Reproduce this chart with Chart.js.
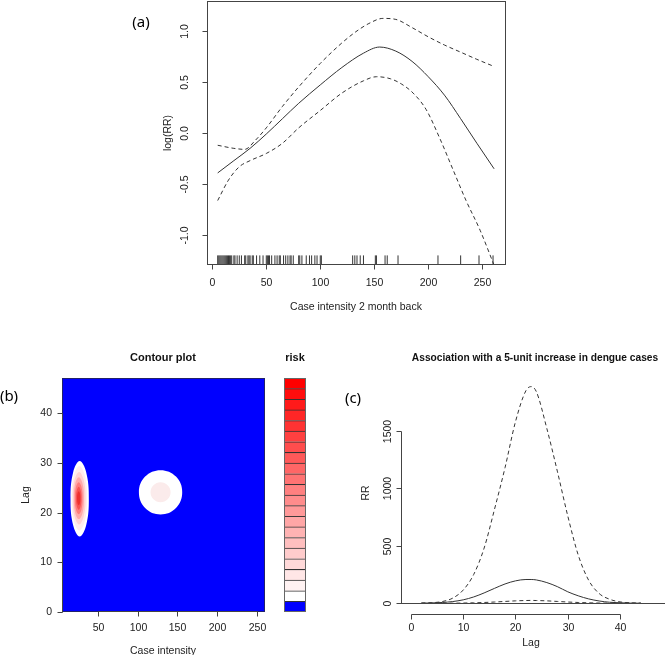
<!DOCTYPE html>
<html>
<head>
<meta charset="utf-8">
<script src="https://cdn.jsdelivr.net/npm/chart.js@4.4.1/dist/chart.umd.min.js"></script>
<style>
body { margin: 0; background: #fff; width: 667px; height: 655px; position: relative; overflow: hidden; font-family: "Liberation Sans", Arial, sans-serif; color: #222; }
canvas { position: absolute; }
.t { position: absolute; transform: translate(-50%, -50%); white-space: nowrap; font-size: 10.5px; }
.b { font-weight: bold; font-size: 11px; color: #111; }
.p { font-family: "Noto Sans", sans-serif; font-size: 15px; color: #000; }
.r { transform: translate(-50%, -50%) rotate(-90deg); }
</style>
</head>
<body>
<canvas id="ga" width="380" height="320" style="left:140px;top:0px"></canvas>
<canvas id="gb" width="275" height="315" style="left:0px;top:340px"></canvas>
<canvas id="gr" width="40" height="315" style="left:278px;top:340px"></canvas>
<canvas id="gc" width="327" height="315" style="left:340px;top:340px"></canvas>

<div class="t p" style="left:141px;top:21px">(a)</div>
<div class="t r" style="left:167px;top:133px">log(RR)</div>
<div class="t" style="left:356px;top:306px">Case intensity 2 month back</div>

<div class="t p" style="left:9px;top:395px">(b)</div>
<div class="t b" style="left:163px;top:357px">Contour plot</div>
<div class="t b" style="left:295px;top:357px">risk</div>
<div class="t r" style="left:25px;top:495px">Lag</div>
<div class="t" style="left:163px;top:650px">Case intensity</div>

<div class="t p" style="left:353px;top:397px">(c)</div>
<div class="t b" style="left:535px;top:357px;font-size:10.2px">Association with a 5-unit increase in dengue cases</div>
<div class="t r" style="left:365px;top:493px">RR</div>
<div class="t" style="left:531px;top:642px">Lag</div>

<script>
// (a) log(RR) vs case intensity, 2 months back
const aFitX = [5, 20, 35, 50, 65, 80, 100, 120, 140, 155, 170, 185, 200, 215, 230, 245, 261];
const aFit = [-0.39, -0.27, -0.15, -0.01, 0.14, 0.29, 0.47, 0.64, 0.78, 0.84, 0.80, 0.70, 0.55, 0.37, 0.14, -0.10, -0.35];
const aUpX = [5, 20, 30, 40, 50, 65, 80, 100, 120, 133, 145, 158, 170, 185, 200, 215, 230, 245, 261];
const aUp = [-0.12, -0.15, -0.16, -0.07, 0.05, 0.26, 0.45, 0.68, 0.88, 0.99, 1.07, 1.12, 1.11, 1.03, 0.94, 0.86, 0.79, 0.72, 0.65];
const aLoX = [5, 15, 25, 35, 50, 65, 80, 100, 120, 140, 152, 165, 175, 186, 198, 211, 223, 235, 248, 262];
const aLo = [-0.66, -0.46, -0.33, -0.27, -0.20, -0.10, 0.05, 0.22, 0.39, 0.51, 0.55, 0.53, 0.48, 0.39, 0.23, -0.06, -0.36, -0.66, -0.95, -1.32];
const rug = [5, 6, 7, 8, 9, 10, 11, 12, 13, 14, 15, 16, 17, 18, 20, 21, 23, 25, 27, 30, 31, 33, 34, 35, 37, 38, 41,
    44, 47, 50, 51, 52, 53, 55, 58, 60, 62, 63, 66, 68, 70, 72, 73, 75, 80, 81, 83, 87, 90, 92, 95, 97, 100, 101,
    130, 132, 134, 137, 140, 151, 152, 160, 162, 172, 209, 230, 247, 260];
const aXTicks = [0, 50, 100, 150, 200, 250];
const aYTicks = [-1, -0.5, 0, 0.5, 1];

// (b) contour plot: risk regions (case intensity, lag)
const blobWhite = [[38.7, 22.8], [35.3, 28.2], [27.2, 30.4], [19.1, 28.2], [15.7, 22.8], [19.1, 17.4], [27.2, 15.2], [35.3, 17.4]];
const blob1 = [[36.6, 22.9], [33.7, 27.5], [26.8, 29.4], [19.9, 27.5], [17.0, 22.9], [19.9, 18.3], [26.8, 16.4], [33.7, 18.3]];
const blob2 = [[34.6, 22.9], [32.2, 26.6], [26.5, 28.2], [20.8, 26.6], [18.5, 22.9], [20.8, 19.2], [26.5, 17.6], [32.2, 19.2]];
const blob3 = [[32.5, 22.9], [30.7, 25.9], [26.2, 27.1], [21.7, 25.9], [19.9, 22.9], [21.7, 19.9], [26.2, 18.7], [30.7, 19.9]];
const blob4 = [[30.8, 22.9], [29.4, 25.2], [26, 26.1], [22.6, 25.2], [21.2, 22.9], [22.6, 20.6], [26, 19.7], [29.4, 20.6]];
const blob5 = [[29.45, 22.9], [28.4, 24.5], [26, 25.2], [23.6, 24.5], [22.55, 22.9], [23.6, 21.3], [26, 20.6], [28.4, 21.3]];
const blob6 = [[28.1, 22.9], [27.5, 23.9], [26, 24.3], [24.5, 23.9], [23.9, 22.9], [24.5, 21.9], [26, 21.5], [27.5, 21.9]];
const circWhite = [[156, 24.1], [148.2, 27.25], [128.8, 28.55], [109.4, 27.25], [101.6, 24.1], [109.4, 20.95], [128.8, 19.65], [148.2, 20.95]];
const circPink = [[141.4, 24.1], [137.7, 25.5], [128.8, 26.1], [119.9, 25.5], [116.2, 24.1], [119.9, 22.7], [128.8, 22.1], [137.7, 22.7]];
const bXTicks = [50, 100, 150, 200, 250];
const bYTicks = [0, 10, 20, 30, 40];
// risk key, bottom to top
const riskColors = ['#0000FF', '#FFFFFF', '#FFF2F2', '#FFE6E6', '#FFD9D9', '#FFCCCC', '#FFBFBF', '#FFB3B3', '#FFA6A6',
    '#FF9999', '#FF8C8C', '#FF8080', '#FF7373', '#FF6666', '#FF5959', '#FF4D4D', '#FF4040', '#FF3333', '#FF2626',
    '#FF1A1A', '#FF0D0D', '#FF0000'];

// (c) RR by lag for a 5-unit increase
const cLag = [2, 4, 6, 8, 10, 12, 14, 16, 18, 20, 22, 23, 24, 26, 28, 30, 32, 34, 36, 38, 40, 42, 44];
const cUp = [2, 5, 15, 45, 115, 250, 480, 820, 1180, 1580, 1850, 1885, 1840, 1520, 1150, 760, 420, 200, 85, 35, 12, 4, 1];
const cFit = [1, 3, 7, 15, 30, 55, 90, 130, 168, 195, 207, 207, 203, 180, 145, 100, 65, 38, 20, 9, 4, 1.5, 0.5];
const cLo = [0, 0, 0.5, 1, 2, 4, 7, 11, 16, 21, 24, 25, 24, 21, 16, 11, 7, 4, 2, 1, 0.5, 0, 0];
const cXTicks = [0, 10, 20, 30, 40];
const cYTicks = [0, 500, 1000, 1500];

const FONT = '10.5px "Liberation Sans", Arial, sans-serif';

// R style axes: box, outward ticks, axis line from first to last tick
const rAxes = {
    id: 'rAxes',
    beforeDatasetsDraw(chart, args, o) {
        if (!o.bg) return;
        const a = chart.chartArea, ctx = chart.ctx;
        ctx.save();
        ctx.fillStyle = o.bg;
        ctx.fillRect(a.left, a.top, a.right - a.left, a.bottom - a.top);
        ctx.restore();
    },
    afterDraw(chart, args, o) {
        const ctx = chart.ctx, a = chart.chartArea;
        const sx = chart.scales.x, sy = chart.scales.y;
        ctx.save();
        ctx.strokeStyle = '#444';
        ctx.fillStyle = '#222';
        ctx.lineWidth = 1;
        ctx.font = FONT;
        if (o.zero) {
            const p = Math.round(sy.getPixelForValue(0)) + 0.5;
            ctx.beginPath();
            ctx.moveTo(a.left, p);
            ctx.lineTo(a.right, p);
            ctx.stroke();
        }
        if (o.box) {
            ctx.strokeStyle = o.boxColor || '#444';
            ctx.strokeRect(a.left + 0.5, a.top + 0.5, a.right - a.left - 1, a.bottom - a.top - 1);
            ctx.strokeStyle = '#444';
        }
        if (o.xLab !== undefined) {
            const yb = a.bottom - 0.5;
            const px = sx.ticks.map(t => Math.round(sx.getPixelForValue(t.value)) + 0.5);
            ctx.beginPath();
            ctx.moveTo(px[0], yb);
            ctx.lineTo(px[px.length - 1], yb);
            px.forEach(p => { ctx.moveTo(p, yb); ctx.lineTo(p, yb + 5); });
            ctx.stroke();
            ctx.textAlign = 'center';
            ctx.textBaseline = 'middle';
            sx.ticks.forEach((t, i) => ctx.fillText(t.label, px[i], a.bottom + o.xLab));
        }
        if (o.yLab !== undefined) {
            const xl = a.left + 0.5;
            const py = sy.ticks.map(t => Math.round(sy.getPixelForValue(t.value)) + 0.5);
            ctx.beginPath();
            ctx.moveTo(xl, py[0]);
            ctx.lineTo(xl, py[py.length - 1]);
            py.forEach(p => { ctx.moveTo(xl, p); ctx.lineTo(xl - 5, p); });
            ctx.stroke();
            sy.ticks.forEach((t, i) => {
                if (o.yRot) {
                    ctx.save();
                    ctx.translate(a.left - o.yLab, py[i]);
                    ctx.rotate(-Math.PI / 2);
                    ctx.textAlign = 'center';
                    ctx.textBaseline = 'middle';
                    ctx.fillText(t.label, 0, 0);
                    ctx.restore();
                } else {
                    ctx.textAlign = 'right';
                    ctx.textBaseline = 'middle';
                    ctx.fillText(t.label, a.left - o.yLab, py[i]);
                }
            });
        }
        ctx.restore();
    }
};

function axis(min, max, ticks, fmt) {
    return {
        type: 'linear', display: false, min: min, max: max,
        afterBuildTicks: s => { s.ticks = ticks.map(v => ({ value: v })); },
        ticks: { callback: fmt || (v => String(v)) }
    };
}

function curve(xs, ys, dash) {
    return {
        data: xs.map((x, i) => ({ x: x, y: ys[i] })),
        borderColor: '#333', borderWidth: 1, borderDash: dash || [],
        pointRadius: 0, fill: false, cubicInterpolationMode: 'monotone'
    };
}

// closed outline: wrap around one vertex on each side so the spline has no seam
function shape(pts, col, order) {
    const n = pts.length;
    const loop = [pts[n - 1]].concat(pts, [pts[0], pts[1]]);
    return {
        data: loop.map(p => ({ x: p[0], y: p[1] })),
        fill: 'shape', backgroundColor: col, borderColor: col, borderWidth: 0,
        pointRadius: 0, tension: 0.4, order: order
    };
}

const base = {
    responsive: false, animation: false,
    plugins: { legend: { display: false }, tooltip: { enabled: false } }
};

// panel (a)
new Chart(document.getElementById('ga'), {
    type: 'line',
    data: {
        datasets: [
            curve(aFitX, aFit),
            curve(aUpX, aUp, [4, 3]),
            curve(aLoX, aLo, [4, 3]),
            {
                data: rug.map(v => ({ x: v, y: -1.245 })),
                showLine: false, pointStyle: 'line', rotation: 90, pointRadius: 5,
                borderColor: '#333', borderWidth: 1
            }
        ]
    },
    options: {
        ...base,
        layout: { autoPadding: false, padding: { left: 67, top: 1, right: 14, bottom: 55 } },
        scales: {
            x: axis(-4.9, 272, aXTicks),
            y: axis(-1.29, 1.29, aYTicks, v => v.toFixed(1))
        },
        plugins: { ...base.plugins, rAxes: { box: true, xLab: 18, yLab: 22, yRot: true } }
    },
    plugins: [rAxes]
});

// panel (b) contour
const blobs = [blobWhite, blob1, blob2, blob3, blob4, blob5, blob6];
const blobCols = ['#FFFFFF', '#FFEDED', '#FFD2D2', '#FFAAAA', '#FF7C7C', '#F85252', '#EE3030'];
const bSets = blobs.map((b, i) => shape(b, blobCols[i], 20 - i));
bSets.push(shape(circWhite, '#FFFFFF', 12), shape(circPink, '#FBEBEB', 11));
new Chart(document.getElementById('gb'), {
    type: 'line',
    data: { datasets: bSets },
    options: {
        ...base,
        layout: { autoPadding: false, padding: { left: 62, top: 38, right: 10, bottom: 43 } },
        scales: {
            x: axis(5, 260, bXTicks),
            y: axis(0, 47.1, bYTicks)
        },
        plugins: { ...base.plugins, rAxes: { bg: '#0000FF', box: true, boxColor: '#22226a', xLab: 16, yLab: 10, yRot: false } }
    },
    plugins: [rAxes]
});

// risk key
new Chart(document.getElementById('gr'), {
    type: 'bar',
    data: {
        labels: ['risk'],
        datasets: riskColors.map(c => ({
            data: [1], backgroundColor: c, borderColor: '#333',
            borderWidth: { top: 1, right: 0, bottom: 0, left: 0 }, borderSkipped: false,
            barPercentage: 1, categoryPercentage: 1
        }))
    },
    options: {
        ...base,
        layout: { autoPadding: false, padding: { left: 6, top: 38, right: 12, bottom: 43 } },
        scales: {
            x: { stacked: true, display: false },
            y: { stacked: true, display: false, min: 0, max: riskColors.length }
        },
        plugins: { ...base.plugins, rAxes: { box: true, boxColor: '#666' } }
    },
    plugins: [rAxes]
});

// panel (c)
new Chart(document.getElementById('gc'), {
    type: 'line',
    data: {
        datasets: [
            curve(cLag, cFit),
            curve(cLag, cUp, [4, 3]),
            curve(cLag, cLo, [4, 3])
        ]
    },
    options: {
        ...base,
        layout: { autoPadding: false, padding: { left: 61, top: 38, right: 2, bottom: 40 } },
        scales: {
            x: axis(-1.9, 48.6, cXTicks),
            y: axis(-102, 1960, cYTicks)
        },
        plugins: { ...base.plugins, rAxes: { zero: true, xLab: 13.3, yLab: 12.7, yRot: true } }
    },
    plugins: [rAxes]
});
</script>
</body>
</html>
